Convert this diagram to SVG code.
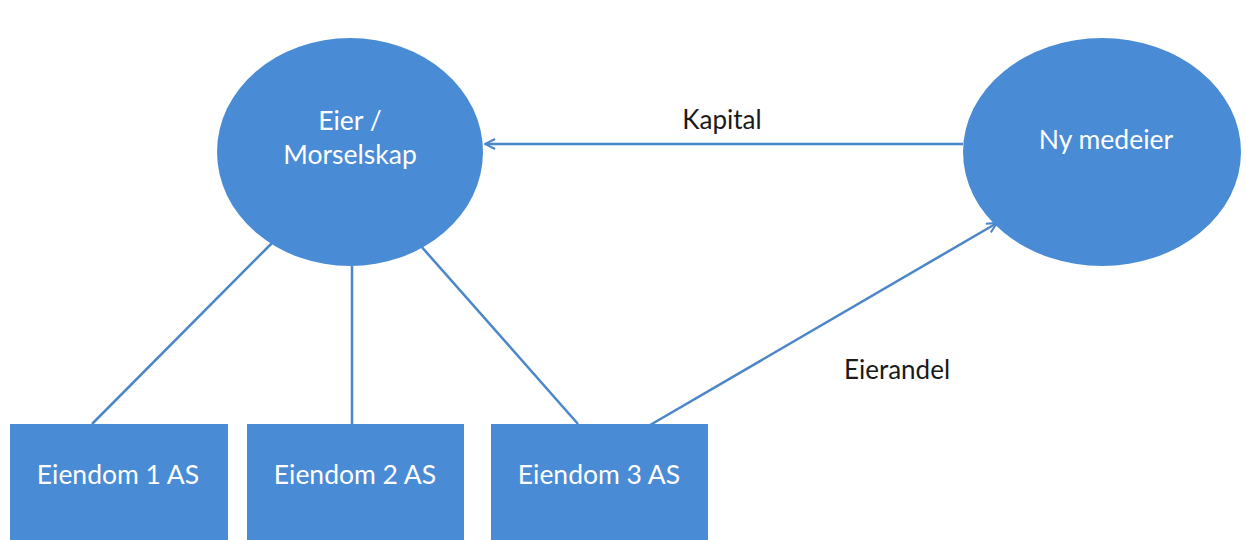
<svg xmlns="http://www.w3.org/2000/svg" width="1246" height="540" viewBox="0 0 1246 540">
  <style>
    .node { fill: #4a8bd6; }
    .label { font-family: Lato, "Liberation Sans", sans-serif; font-size: 26.5px; fill: #ffffff; text-anchor: middle; }
    .edge-label { font-family: Lato, "Liberation Sans", sans-serif; font-size: 26px; fill: #1a1a1a; text-anchor: middle; }
    .link { stroke: #4a86c8; stroke-width: 2.5; fill: none; }
  </style>
  <defs>
    <marker id="open-arrow" viewBox="0 0 12 12" refX="11" refY="6" markerWidth="12" markerHeight="12" markerUnits="userSpaceOnUse" orient="auto">
      <path d="M1,1 L11,6 L1,11" fill="none" stroke="#4a86c8" stroke-width="2"/>
    </marker>
  </defs>
  <rect width="1246" height="540" fill="#ffffff"/>

  <!-- connectors -->
  <g id="connectors">
    <line class="link" x1="272" y1="243" x2="92" y2="424"/>
    <line class="link" x1="352" y1="266" x2="352" y2="424"/>
    <line class="link" x1="420" y1="245" x2="578" y2="424"/>
    <line class="link" x1="963" y1="144" x2="485" y2="144" marker-end="url(#open-arrow)"/>
    <line class="link" x1="645" y1="428" x2="997" y2="223" marker-end="url(#open-arrow)"/>
    <text class="edge-label" x="722" y="129">Kapital</text>
    <text class="edge-label" x="897" y="379">Eierandel</text>
  </g>

  <g id="eier">
    <ellipse class="node" cx="350" cy="152" rx="133" ry="114"/>
    <text class="label" x="350" y="130">Eier /</text>
    <text class="label" x="350" y="164">Morselskap</text>
  </g>

  <g id="ny-medeier">
    <ellipse class="node" cx="1102" cy="152" rx="139" ry="114"/>
    <text class="label" x="1106" y="149">Ny medeier</text>
  </g>

  <g id="eiendom1">
    <rect class="node" x="10" y="424" width="218" height="120"/>
    <text class="label" x="118" y="484">Eiendom 1 AS</text>
  </g>

  <g id="eiendom2">
    <rect class="node" x="247" y="424" width="217" height="120"/>
    <text class="label" x="355" y="484">Eiendom 2 AS</text>
  </g>

  <g id="eiendom3">
    <rect class="node" x="491" y="424" width="217" height="120"/>
    <text class="label" x="599" y="484">Eiendom 3 AS</text>
  </g>
</svg>
